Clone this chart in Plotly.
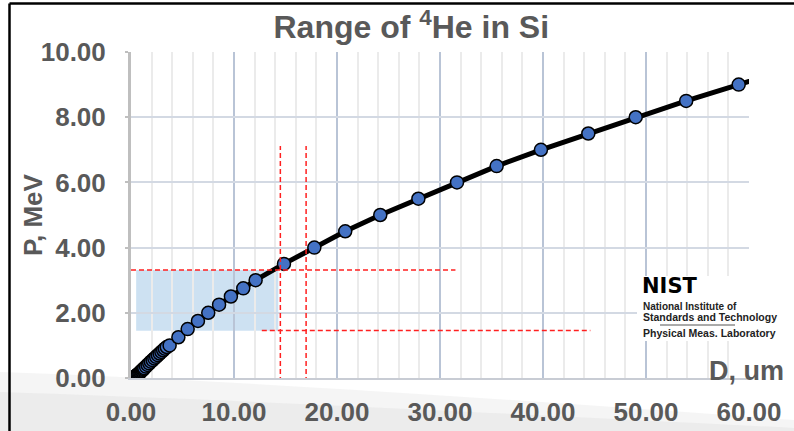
import plotly.graph_objects as go

# Projected range D (um) of 4He ions in silicon vs. ion energy P (MeV)
energy_mev = [0.05, 0.075, 0.1, 0.125, 0.15, 0.175, 0.2, 0.225, 0.25, 0.275,
              0.3, 0.35, 0.4, 0.45, 0.5, 0.55, 0.6, 0.65, 0.7, 0.75, 0.8,
              0.85, 0.9, 0.95, 1.0, 1.25, 1.5, 1.75, 2.0, 2.25, 2.5, 2.75,
              3.0, 3.5, 4.0, 4.5, 5.0, 5.5, 6.0, 6.5, 7.0, 7.5, 8.0, 8.5,
              9.0, 9.5]
range_um = [0.42, 0.53, 0.63, 0.72, 0.81, 0.89, 0.97, 1.05, 1.13, 1.21,
            1.29, 1.45, 1.61, 1.77, 1.93, 2.10, 2.27, 2.44, 2.61, 2.78, 2.95,
            3.12, 3.29, 3.47, 3.75, 4.6, 5.5, 6.5, 7.5, 8.55, 9.7, 10.9,
            12.1, 14.85, 17.8, 20.8, 24.2, 27.9, 31.65, 35.5, 39.8, 44.4,
            49.0, 53.9, 59.0, 64.2]

# Highlighted working window (range and energy limits)
window_d = [0.5, 14.3]
window_p = [1.45, 3.31]

# Red guide lines: energies and depths of interest
guide_p_hi, guide_p_lo = 3.31, 1.46
guide_p_span_hi = [0.0, 31.5]
guide_p_span_lo = [12.7, 44.6]
guide_d = [14.5, 17.0]
guide_d_span = [-0.12, 7.12]

x_ticks = [0, 10, 20, 30, 40, 50, 60]
y_ticks = [0, 2, 4, 6, 8, 10]

GRAY = "#595959"
FONT = "Liberation Sans, Arial, sans-serif"

# plot-area geometry in pixels, used for placing free text outside the axes
L, R, T, B = 131, 749, 52, 378


def px_x(px):
    return (px - L) / (R - L)


def px_y(py):
    return (B - py) / (B - T)


fig = go.Figure()

fig.add_trace(go.Scatter(
    x=range_um, y=energy_mev, mode="lines+markers",
    line=dict(color="black", width=5),
    marker=dict(size=13, color="#4472C4", line=dict(color="black", width=1.5)),
    showlegend=False, hoverinfo="x+y",
))

shapes = []
# faint grey slide background along the bottom
for top_left, top_right, alpha in [(372, 420, 0.25), (392, 428, 0.3)]:
    shapes.append(dict(
        type="path", xref="paper", yref="paper", layer="below",
        path=(f"M {px_x(0)},{px_y(431)} L {px_x(0)},{px_y(top_left)} "
              f"Q {px_x(250)},{px_y(top_left + 8)} {px_x(794)},{px_y(top_right)} "
              f"L {px_x(794)},{px_y(431)} Z"),
        fillcolor=f"rgba(215,215,215,{alpha})", line=dict(width=0),
    ))
# shaded window
shapes.append(dict(
    type="rect", xref="x", yref="y", layer="below",
    x0=window_d[0], x1=window_d[1], y0=window_p[0], y1=window_p[1],
    fillcolor="rgba(91,155,213,0.30)", line=dict(width=0),
))
red = dict(color="#ff2020", width=1.5, dash="5px,3px")
shapes.append(dict(type="line", xref="x", yref="y", layer="above",
                   x0=guide_p_span_hi[0], x1=guide_p_span_hi[1],
                   y0=guide_p_hi, y1=guide_p_hi, line=red))
shapes.append(dict(type="line", xref="x", yref="y", layer="above",
                   x0=guide_p_span_lo[0], x1=guide_p_span_lo[1],
                   y0=guide_p_lo, y1=guide_p_lo, line=red))
for d in guide_d:
    shapes.append(dict(type="line", xref="x", yref="y", layer="above",
                       x0=d, x1=d, y0=guide_d_span[0], y1=guide_d_span[1],
                       line=red))
# white panel behind the NIST label
shapes.append(dict(type="rect", xref="paper", yref="paper", layer="above",
                   x0=px_x(637), x1=px_x(786), y0=px_y(341), y1=px_y(276),
                   fillcolor="white", line=dict(width=0)))
shapes.append(dict(type="line", xref="paper", yref="paper", layer="above",
                   x0=px_x(660), x1=px_x(735), y0=px_y(325), y1=px_y(325),
                   line=dict(color="#555555", width=1)))
# slide frame
shapes.append(dict(type="line", xref="paper", yref="paper", layer="above",
                   x0=px_x(9.5), x1=px_x(800), y0=px_y(3.5), y1=px_y(3.5),
                   line=dict(color="black", width=2.5)))
shapes.append(dict(type="line", xref="paper", yref="paper", layer="above",
                   x0=px_x(9.5), x1=px_x(9.5), y0=px_y(3.5), y1=px_y(440),
                   line=dict(color="black", width=2.5)))

annotations = [
    dict(text="P, MeV", textangle=-90, xref="paper", yref="paper",
         x=px_x(33), y=0.5, showarrow=False, xanchor="center", yanchor="middle",
         font=dict(family=FONT, size=26, color=GRAY, weight="bold")),
    dict(text="D, um", xref="paper", yref="paper",
         x=px_x(746), y=px_y(371), showarrow=False, xanchor="center",
         yanchor="middle",
         font=dict(family=FONT, size=27, color=GRAY, weight="bold")),
    dict(text="NIST", xref="paper", yref="paper", x=px_x(640), y=px_y(286),
         showarrow=False, xanchor="left", yanchor="middle",
         font=dict(family="DejaVu Sans, sans-serif", size=21, color="black",
                   weight="bold")),
    dict(text="National Institute of", xref="paper", yref="paper",
         x=px_x(641), y=px_y(306), showarrow=False, xanchor="left",
         yanchor="middle",
         font=dict(family=FONT, size=10, color="#222222", weight="bold")),
    dict(text="Standards and Technology", xref="paper", yref="paper",
         x=px_x(641), y=px_y(317), showarrow=False, xanchor="left",
         yanchor="middle",
         font=dict(family=FONT, size=10.5, color="#222222", weight="bold")),
    dict(text="Physical Meas. Laboratory", xref="paper", yref="paper",
         x=px_x(641), y=px_y(333), showarrow=False, xanchor="left",
         yanchor="middle",
         font=dict(family=FONT, size=10.5, color="#222222", weight="bold")),
]

fig.update_layout(
    width=794, height=431,
    margin=dict(l=L, r=794 - R, t=T, b=431 - B, autoexpand=False),
    paper_bgcolor="white", plot_bgcolor="rgba(0,0,0,0)",
    title=dict(text="Range of <sup>4</sup>He in Si", x=0.518, xref="container",
               xanchor="center", y=1 - 27 / 431, yanchor="middle",
               font=dict(family=FONT, size=32, color=GRAY, weight="bold")),
    shapes=shapes, annotations=annotations, showlegend=False,
)

fig.update_xaxes(
    range=[0, 60], tickvals=x_ticks, tickformat=".2f", automargin=False,
    tickfont=dict(family=FONT, size=26, color=GRAY, weight="bold"),
    ticklabelstandoff=10,
    showgrid=True, gridcolor="#b9c4d6", gridwidth=2,
    minor=dict(dtick=2, showgrid=True, gridcolor="#ebebeb", gridwidth=2),
    showline=True, linecolor="#c8ccd4", linewidth=2,
    zeroline=False, ticks="",
)
fig.update_yaxes(
    range=[0, 10], tickvals=y_ticks, tickformat=".2f", automargin=False,
    tickfont=dict(family=FONT, size=26, color=GRAY, weight="bold"),
    ticklabelstandoff=14,
    showgrid=True, gridcolor="#d3d9e3", gridwidth=2,
    showline=True, linecolor="#bfbfbf", linewidth=3,
    ticks="outside", ticklen=3, tickcolor="#bfbfbf", tickwidth=2,
    zeroline=False,
)

fig.write_html("out.html")
